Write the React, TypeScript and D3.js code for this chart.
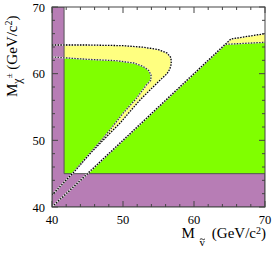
import * as d3 from 'd3';

// axis ticks
const xTicks = [40, 50, 60, 70];
const yTicks = [40, 50, 60, 70];
const minorTicks = d3.range(40, 71, 2);

// kinematic / LEP limits (GeV)
const snuLimit = 41.7;
const charginoLimit = 45;

// excluded lobe, outer (dotted) contour: [M_snu, M_chargino]
const outerLobe: [number, number][] = [
  [40, 64.3], [45, 64.3], [50, 64.2], [53, 63.95], [55, 63.6], [56.2, 63.1],
  [56.75, 62.4], [56.8, 61.5], [56.6, 60.7], [56.2, 60.0], [55.2, 59.0],
  [53.8, 57.55], [52.4, 56.05], [51.0, 54.35], [49.6, 52.6], [48.2, 51.1],
  [47.0, 49.8], [45.6, 48.3], [43.0, 45.15], [40, 41.8],
];

// excluded lobe, inner contour
const innerLobe: [number, number][] = [
  [40, 62.5], [45, 62.15], [49, 61.95], [51.5, 61.6], [52.8, 61.1],
  [53.6, 60.5], [53.95, 59.8], [53.9, 59.0], [53.3, 58.3], [51.9, 56.3],
  [50.0, 54.05], [48.2, 51.6], [47.0, 50.05], [45.6, 48.35], [43.0, 45.15],
  [40, 41.8],
];

// right-hand region, outer and inner contours
const diagOuter: [number, number][] = [[40, 40], [64.7, 64.7], [65.2, 65.2], [70, 66.0]];
const diagInner: [number, number][] = [[40, 40], [64.4, 64.4], [70, 64.7]];

const W = 272;
const H = 256;
const left = 52, right = 265, top = 7, bottom = 207;

export default function App() {
  const x = d3.scaleLinear().domain([40, 70]).range([left, right]);
  const y = d3.scaleLinear().domain([40, 70]).range([bottom, top]);
  const line = d3.line<[number, number]>().x(d => x(d[0])).y(d => y(d[1]));
  const closed = (pts: [number, number][]) => line(pts) + 'Z';

  const rightOuterPoly: [number, number][] = [...diagOuter, [70, 40]];
  const rightInnerPoly: [number, number][] = [...diagInner, [70, 40]];
  const purple: [number, number][] = [
    [40, 40], [70, 40], [70, charginoLimit], [snuLimit, charginoLimit], [snuLimit, 70], [40, 70],
  ];

  const font = "'Liberation Serif', 'DejaVu Serif', serif";
  const dotted = (pts: [number, number][], color: string) => (
    <g>
      <path d={line(pts)!} fill="none" stroke="#e8e8e8" strokeWidth={1.3} />
      <path d={line(pts)!} fill="none" stroke={color} strokeWidth={1.3} strokeDasharray="1.4,1.4" />
    </g>
  );

  return (
    <svg width={W} height={H} style={{ position: 'absolute', left: 0, top: 0 }}>
      <defs>
        <clipPath id="plot">
          <rect x={left} y={top} width={right - left} height={bottom - top} />
        </clipPath>
      </defs>
      <rect width={W} height={H} fill="white" />
      <g clipPath="url(#plot)">
        <path d={closed(outerLobe)} fill="#ffff80" />
        <path d={closed(innerLobe)} fill="#80ff00" />
        <path d={closed(rightOuterPoly)} fill="#ffff80" />
        <path d={closed(rightInnerPoly)} fill="#80ff00" />
        <path d={closed(purple)} fill="#b77db5" stroke="#555" strokeWidth={1} />
        {dotted(innerLobe, '#333')}
        {dotted(outerLobe, '#000')}
        {dotted(diagInner, '#333')}
        {dotted(diagOuter, '#000')}
      </g>
      {/* frame */}
      <rect x={left} y={top} width={right - left} height={bottom - top} fill="none" stroke="#444" strokeWidth={1} />
      {minorTicks.map(t => {
        const len = t % 10 === 0 ? 6 : 3;
        return (
          <g key={t} stroke="#444" strokeWidth={1}>
            <line x1={x(t)} x2={x(t)} y1={bottom} y2={bottom - len} />
            <line x1={x(t)} x2={x(t)} y1={top} y2={top + len} />
            <line x1={left} x2={left + len} y1={y(t)} y2={y(t)} />
            <line x1={right} x2={right - len} y1={y(t)} y2={y(t)} />
          </g>
        );
      })}
      {xTicks.map(t => (
        <text key={t} x={x(t)} y={223.5} textAnchor="middle" fontFamily={font} fontSize={12.5}>{t}</text>
      ))}
      {yTicks.map(t => (
        <text key={t} x={45} y={y(t) + 4.5} textAnchor="end" fontFamily={font} fontSize={12.5}>{t}</text>
      ))}
      {/* x title */}
      <text x={181.5} y={238} fontFamily={font} fontSize={15}>M</text>
      <text x={199.5} y={246} fontFamily={font} fontSize={11}>v</text>
      <path d="M199.8,239.6 q1.2,-1.6 2.6,-0.4 q1.4,1.2 2.6,-0.4" fill="none" stroke="#000" strokeWidth={0.8} />
      <text x={266} y={238} textAnchor="end" fontFamily={font} fontSize={15}>
        (GeV/c<tspan dy={-4.5} fontSize={10}>2</tspan><tspan dy={4.5}>)</tspan>
      </text>
      {/* y title */}
      <text transform="translate(17,97) rotate(-90)" fontFamily={font} fontSize={15}>
        M<tspan dy={4} fontSize={12}>χ</tspan><tspan dy={-9} fontSize={9}>±</tspan>
        <tspan dy={5}> (GeV/c</tspan><tspan dy={-5} fontSize={10}>2</tspan><tspan dy={5}>)</tspan>
      </text>
    </svg>
  );
}
